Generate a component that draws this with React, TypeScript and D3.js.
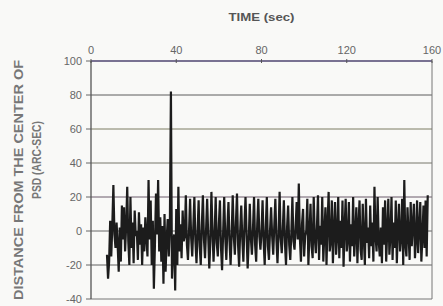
import React from 'react';
import * as d3 from 'd3';

// sample spacing of the tracking record (sec) and first sample time
const sampleStart = 7.5;
const sampleStep = 0.5;

// distance from PSD centre (arc-sec)
const distance = [
  -14, -28, -18, 6, -15, 3, 27, -2, -10, 5,
  -8, -24, 2, -18, 15, -5, 14, -12, 3, 26,
  -6, -20, 20, -10, 5, -19, 12, -3, 0, -17,
  11, -8, 4, -20, 2, -12, 8, -4, -15, 30,
  -5, 18, -20, 6, -34, -8, 22, -2, 30, -12,
  8, -18, 3, -31, 10, -24, -5, 7, -15, 2,
  82, -28, -10, -2, -35, 13, -20, 26, -12, 4,
  -16, 12, -6, -3, 21, -8, -17, 0, 19, -4,
  -15, 2, 20, -6, -19, -1, 18, -9, -20, 3,
  21, -5, -16, 1, 19, -3, -22, -6, 23, 0,
  -18, -2, 20, -7, -15, 4, 18, -10, -23, -1,
  20, -4, -17, 2, 17, -6, -20, -2, 21, -3,
  -14, 5, 22, -8, -21, 0, 15, -5, -18, 3,
  20, -2, -22, -6, 16, -4, -14, 1, 20, -8,
  -18, 4, 19, -3, -11, -1, 18, -6, -20, 2,
  20, -9, -17, 0, 14, -3, -14, 3, 19, -5,
  -19, -2, 23, -4, -13, 1, 18, -7, -20, 2,
  15, -8, -17, -1, 20, -6, -11, 2, 17, -5,
  28, -4, -18, 4, 13, -15, -3, 0, 19, -20,
  -2, 16, -9, -16, 20, -4, -13, 2, 21, -17,
  3, -8, 20, -18, -1, 14, -20, 5, 23, -12,
  -6, 18, -19, 0, 17, -14, -3, 20, -16, 6,
  -10, 18, -21, 2, 19, -12, -5, 17, -18, 4,
  -9, 20, -15, -2, 14, -19, 3, 18, -11, -17,
  16, -4, -20, 19, -7, 2, -16, 15, -9, 5,
  -18, 26, -3, -12, 20, -6, -15, 2, -19, 14,
  -8, 18, -18, 0, 19, -14, -3, 20, -17, 5,
  -10, 18, -19, 1, 16, -12, -4, 19, -20, 30,
  -8, -15, 14, -2, -17, 17, -9, 3, 16, -16,
  -5, 18, -13, 2, 17, -18, -4, 15, -10, 18,
  -15, 21,
];

const xTicks = [0, 40, 80, 120, 160];
const yTicks = [100, 80, 60, 40, 20, 0, -20, -40];
// scanned gridlines pick up a faint tint
const gridColors = ['#4e4470', '#5c5c5c', '#7d7d62', '#77776a', '#6a5a6a', '#666', '#606060', '#777'];

const W = 443;
const H = 306;
const margin = { top: 61, right: 11, bottom: 7, left: 91 };

export default function App() {
  const x = d3.scaleLinear().domain([0, 160]).range([margin.left, W - margin.right]);
  const y = d3.scaleLinear().domain([-40, 100]).range([H - margin.bottom, margin.top]);

  const line = d3.line<number>()
    .x((d, i) => x(sampleStart + i * sampleStep))
    .y(d => y(d));

  const font = 'Arial, "Liberation Sans", sans-serif';

  return (
    <svg width={W} height={H} style={{ position: 'absolute', left: 0, top: 0, background: '#f9f9f7' }} fontFamily={font}>
      {/* horizontal gridlines */}
      {yTicks.map((t, i) => (
        <g key={t}>
          <line x1={x(0)} x2={x(160)} y1={y(t)} y2={y(t)} stroke={gridColors[i]} strokeWidth={t === 100 ? 1.6 : 1} />
          <line x1={x(0) - 5} x2={x(0)} y1={y(t)} y2={y(t)} stroke="#666" />
          <text x={x(0) - 9} y={y(t)} dy="0.35em" textAnchor="end" fontSize={11} fill="#666">{t}</text>
        </g>
      ))}

      {/* frame */}
      <line x1={x(0)} x2={x(0)} y1={y(100)} y2={y(-40)} stroke="#555" strokeWidth={1.3} />
      <line x1={x(160)} x2={x(160)} y1={y(100)} y2={y(-40)} stroke="#777" strokeWidth={1} />

      {/* top time axis */}
      {xTicks.map(t => (
        <g key={t}>
          <line x1={x(t)} x2={x(t)} y1={y(100) - 2} y2={y(100) + 2} stroke="#555" />
          <text x={x(t)} y={50} dy="0.35em" textAnchor="middle" fontSize={11} fill="#666">{t}</text>
        </g>
      ))}
      <text x={x(80)} y={17} dy="0.35em" textAnchor="middle" fontSize={10.5} fontWeight="bold" fill="#555"
        textLength={66} lengthAdjust="spacingAndGlyphs">TIME (sec)</text>

      {/* y title */}
      <g transform="translate(19, 180) rotate(-90)">
        <text textAnchor="middle" dy="0.35em" fontSize={12.5} fontWeight="bold" fill="#777"
          textLength={240} lengthAdjust="spacingAndGlyphs">DISTANCE FROM  THE  CENTER OF</text>
      </g>
      <g transform="translate(37, 160) rotate(-90)">
        <text textAnchor="middle" dy="0.35em" fontSize={12.5} fontWeight="bold" fill="#777"
          textLength={78} lengthAdjust="spacingAndGlyphs">PSD (ARC-SEC)</text>
      </g>

      {/* tracking trace */}
      <path d={line(distance) || ''} fill="none" stroke="#1c1c1c" strokeWidth={2.2} strokeLinejoin="miter" />
    </svg>
  );
}
